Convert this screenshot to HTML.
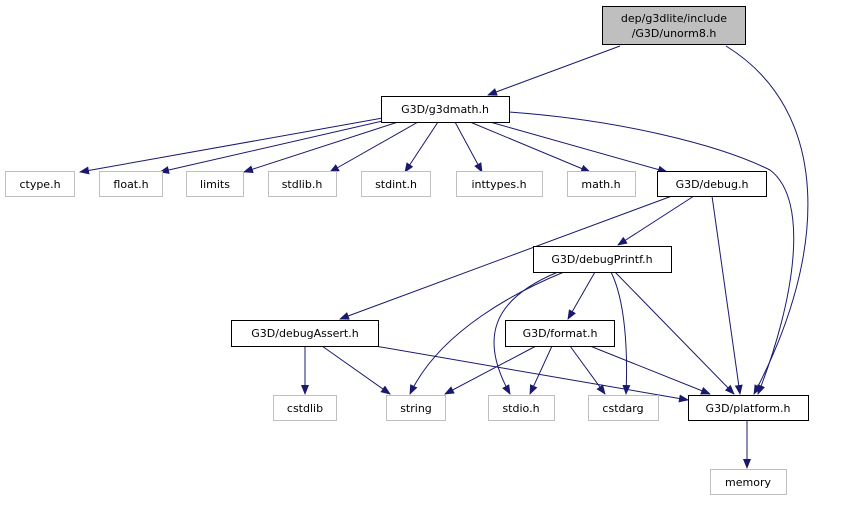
<!DOCTYPE html>
<html><head><meta charset="utf-8"><style>
body{margin:0;background:#fff}
text{font-family:"DejaVu Sans","Liberation Sans",sans-serif;font-size:11px;text-anchor:middle}
</style></head><body>
<svg width="857" height="500" xmlns="http://www.w3.org/2000/svg">
<defs><marker id="a" markerWidth="10" markerHeight="8" refX="9" refY="4" orient="auto" markerUnits="userSpaceOnUse"><path d="M0,0 L10,4 L0,8 z" fill="#191970"/></marker></defs>
<g fill="none" stroke="#191970" stroke-width="1" marker-end="url(#a)">
<path d="M620,46 L488,95"/>
<path d="M726,46 C830,110 830,250 754,394"/>
<path d="M383,118 L80,172"/>
<path d="M387,120 L160,172"/>
<path d="M398,122 L244,172"/>
<path d="M418,122 L330,172"/>
<path d="M438,122 L405,172"/>
<path d="M455,122 L482,172"/>
<path d="M470,122 L590,172"/>
<path d="M490,122 L667,172"/>
<path d="M509,112 C620,120 720,145 770,170 C810,200 795,300 758,394"/>
<path d="M672,196 L340,319"/>
<path d="M694,196 L618,245"/>
<path d="M712,196 L740,394"/>
<path d="M564,272 C520,290 440,330 410,394"/>
<path d="M558,272 C490,300 480,340 510,394"/>
<path d="M595,272 L568,319"/>
<path d="M611,272 C625,300 628,350 626,394"/>
<path d="M615,272 L734,394"/>
<path d="M305,346 L305,394"/>
<path d="M322,346 L390,394"/>
<path d="M375,346 L688,400"/>
<path d="M536,346 L445,394"/>
<path d="M552,346 L530,394"/>
<path d="M570,346 L605,394"/>
<path d="M590,346 L710,394"/>
<path d="M747,420 L747,468"/>
</g>
<g stroke-width="1">
<rect x="602.5" y="6.5" width="143" height="38" fill="#bfbfbf" stroke="#000"/>
<rect x="381.5" y="96.5" width="128" height="26" fill="#fff" stroke="#000"/>
<rect x="657.5" y="171.5" width="109" height="25" fill="#fff" stroke="#000"/>
<rect x="533.5" y="246.5" width="138" height="26" fill="#fff" stroke="#000"/>
<rect x="231.5" y="320.5" width="147" height="26" fill="#fff" stroke="#000"/>
<rect x="505.5" y="320.5" width="109" height="26" fill="#fff" stroke="#000"/>
<rect x="688.5" y="395.5" width="120" height="25" fill="#fff" stroke="#000"/>
<g fill="#fff" stroke="#bfbfbf">
<rect x="5.5" y="171.5" width="69" height="25"/>
<rect x="99.5" y="171.5" width="63" height="25"/>
<rect x="186.5" y="171.5" width="57" height="25"/>
<rect x="268.5" y="171.5" width="68" height="25"/>
<rect x="361.5" y="171.5" width="69" height="25"/>
<rect x="456.5" y="171.5" width="86" height="25"/>
<rect x="567.5" y="171.5" width="68" height="25"/>
<rect x="273.5" y="395.5" width="63" height="25"/>
<rect x="386.5" y="395.5" width="59" height="25"/>
<rect x="488.5" y="395.5" width="66" height="25"/>
<rect x="588.5" y="395.5" width="70" height="25"/>
<rect x="710.5" y="469.5" width="76" height="25"/>
</g></g>
<text x="674" y="22">dep/g3dlite/include</text>
<text x="674" y="37">/G3D/unorm8.h</text>
<text x="445" y="113">G3D/g3dmath.h</text>
<text x="712" y="188">G3D/debug.h</text>
<text x="602" y="263">G3D/debugPrintf.h</text>
<text x="305" y="337">G3D/debugAssert.h</text>
<text x="560" y="337">G3D/format.h</text>
<text x="748" y="412">G3D/platform.h</text>
<g fill="#000">
<text x="40" y="188">ctype.h</text>
<text x="131" y="188">float.h</text>
<text x="215" y="188">limits</text>
<text x="302" y="188">stdlib.h</text>
<text x="396" y="188">stdint.h</text>
<text x="499" y="188">inttypes.h</text>
<text x="601" y="188">math.h</text>
<text x="305" y="412">cstdlib</text>
<text x="416" y="412">string</text>
<text x="521" y="412">stdio.h</text>
<text x="623" y="412">cstdarg</text>
<text x="748" y="486">memory</text>
</g>
</svg>
</body></html>
